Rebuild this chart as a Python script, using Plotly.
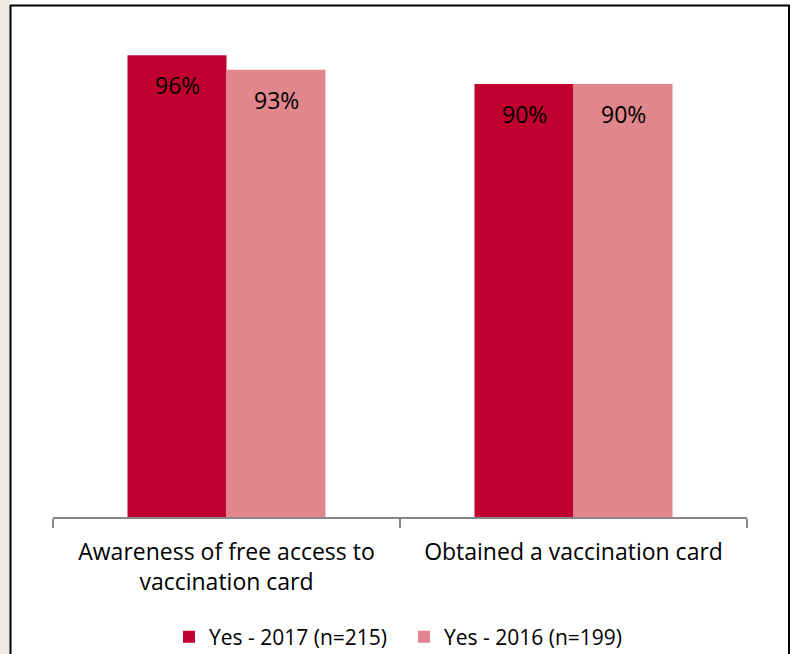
import plotly.graph_objects as go

categories = ["Awareness of free access to<br>vaccination card", "Obtained a vaccination card"]
series_names = ["Yes - 2017 (n=215)", "Yes - 2016 (n=199)"]
values_2017 = [0.96, 0.90]
values_2016 = [0.93, 0.90]
colors = ["#C0002F", "#E0868C"]

W, H = 796, 654
L, R, T, B = 53, 49, 36, 137
pw, ph = W - L - R, H - T - B

def px_x(x):
    return (x - L) / pw

def px_y(y):
    return (H - B - y) / ph

fig = go.Figure()
for name, vals, col in zip(series_names, [values_2017, values_2016], colors):
    fig.add_trace(go.Bar(
        x=categories, y=vals, name=name, marker=dict(color=col, line=dict(width=0)),
        textposition="none", hoverinfo="skip",
    ))

font_family = "Open Sans, Noto Sans, sans-serif"
group_frac = 1 - 0.4294
annotations = []
for vals, sign in [(values_2017, -1), (values_2016, 1)]:
    for j, v in enumerate(vals):
        annotations.append(dict(
            x=j + sign * group_frac / 4, y=v, xref="x", yref="y",
            text=f"{v*100:.0f}%", showarrow=False, yshift=-30,
            font=dict(size=23, color="#000000", family=font_family),
        ))

shapes = [
    dict(type="rect", xref="paper", yref="paper", x0=px_x(0), x1=px_x(10), y0=px_y(H), y1=px_y(0),
         fillcolor="#EEEBE0", line=dict(width=0), layer="below"),
    dict(type="line", xref="paper", yref="paper", x0=px_x(10.5), x1=px_x(10.5), y0=px_y(H), y1=px_y(5),
         line=dict(color="#000000", width=2)),
    dict(type="line", xref="paper", yref="paper", x0=px_x(10), x1=px_x(790), y0=px_y(5.5), y1=px_y(5.5),
         line=dict(color="#000000", width=2)),
    dict(type="line", xref="paper", yref="paper", x0=px_x(789), x1=px_x(789), y0=px_y(5), y1=px_y(H),
         line=dict(color="#000000", width=2)),
]

fig.update_layout(
    width=W, height=H,
    margin=dict(l=L, r=R, t=T, b=B, autoexpand=False),
    paper_bgcolor="#FFFFFF", plot_bgcolor="#FFFFFF",
    barmode="group", bargap=0.4294, bargroupgap=0,
    font=dict(family=font_family, color="#000000"),
    xaxis=dict(showline=True, linecolor="#888888", linewidth=1.5, ticks="outside", tickson="boundaries",
               ticklen=9, tickcolor="#888888", tickwidth=1.5, tickfont=dict(size=23), showgrid=False,
               ticklabelstandoff=14),
    yaxis=dict(range=[0, 1], visible=False),
    legend=dict(orientation="h", x=px_x(404), xanchor="center", y=px_y(637), yanchor="middle",
                font=dict(size=21), itemwidth=30, traceorder="normal", entrywidth=190),
    showlegend=True,
    annotations=annotations,
    shapes=shapes,
)

fig.write_html("out.html", config={"displayModeBar": False},
               post_script="document.body.style.margin='0';document.body.style.overflow='hidden';")
